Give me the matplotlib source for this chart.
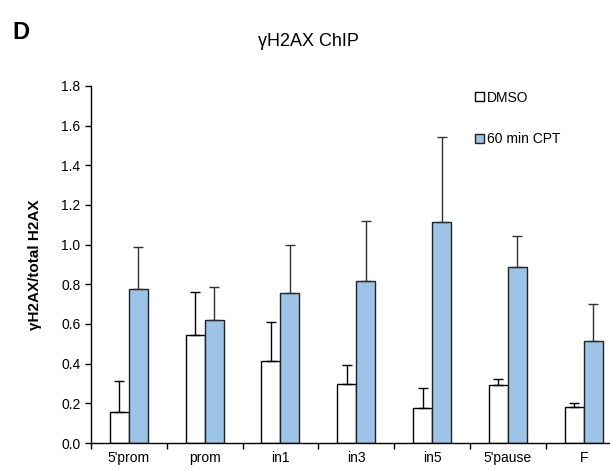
import numpy as np
import matplotlib
matplotlib.use('Agg')
import matplotlib.pyplot as plt

plt.rcParams['font.family'] = ['Liberation Sans', 'DejaVu Sans']

# values
regions = ["5'prom", "prom", "in1", "in3", "in5", "5'pause", "F"]
dmso = [0.155, 0.545, 0.415, 0.295, 0.175, 0.29, 0.183]
dmso_err = [0.16, 0.215, 0.195, 0.10, 0.10, 0.035, 0.02]
cpt = [0.778, 0.62, 0.755, 0.815, 1.114, 0.885, 0.513]
cpt_err = [0.21, 0.165, 0.245, 0.305, 0.43, 0.16, 0.19]

fig = plt.figure(figsize=(6.1, 4.7), dpi=100)
ax = fig.add_axes([0.149, 0.0574, 0.87, 0.76])

x = np.arange(len(regions))
w = 0.25
ax.bar(x - w/2, dmso, w, color='white', edgecolor='black', linewidth=1.0,
       yerr=[np.zeros(len(x)), dmso_err], error_kw=dict(ecolor='black', elinewidth=1.0, capsize=3.5, capthick=1.0),
       label='DMSO', zorder=2)
ax.bar(x + w/2, cpt, w, color='#9dc3e6', edgecolor='#222222', linewidth=1.0,
       yerr=[np.zeros(len(x)), cpt_err], error_kw=dict(ecolor='#333333', elinewidth=1.0, capsize=3.5, capthick=1.0),
       label='60 min CPT', zorder=2)

ax.set_xlim(-0.5, 6.5)
ax.set_ylim(0, 1.8)
ax.set_yticks(np.arange(0, 1.81, 0.2))
ax.set_yticklabels(['%.1f' % v for v in np.arange(0, 1.81, 0.2)])
ax.set_xticks(x)
ax.set_xticklabels(regions)
ax.set_xticks(np.arange(-0.5, 7, 1), minor=True)
ax.tick_params(axis='x', which='major', length=0, labelsize=10, pad=6)
ax.tick_params(axis='x', which='minor', length=4, direction='out', width=1)
ax.tick_params(axis='y', length=4, direction='out', width=1, labelsize=10)
ax.spines['top'].set_visible(False)
ax.spines['right'].set_visible(False)
ax.spines['left'].set_linewidth(1)
ax.spines['bottom'].set_linewidth(1)

ax.set_ylabel('γH2AX/total H2AX', fontsize=11, fontweight='bold', labelpad=14)

ax.legend(loc='upper left', bbox_to_anchor=(0.768, 0.822), bbox_transform=fig.transFigure,
          frameon=False, fontsize=10, borderpad=0,
          handlelength=0.65, handleheight=0.65, handletextpad=0.15, labelspacing=2.0)

fig.text(0.02, 0.93, 'D', fontsize=17, fontweight='bold', va='center')
fig.text(0.505, 0.912, 'γH2AX ChIP', fontsize=13, ha='center', va='center')

fig.savefig('out.png', dpi=100)
